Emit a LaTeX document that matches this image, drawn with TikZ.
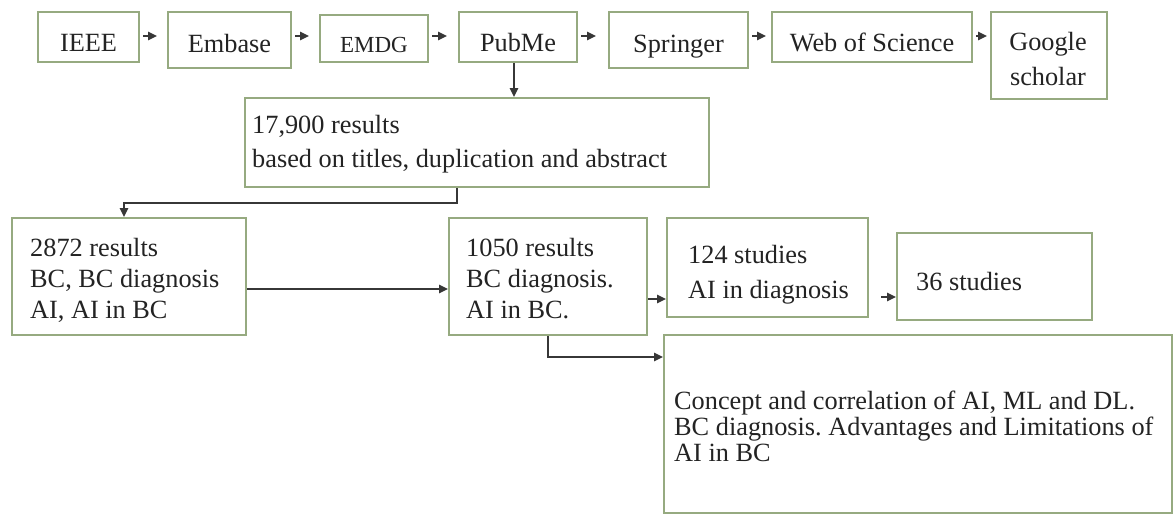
\documentclass[tikz,border=0pt]{standalone}
\usepackage{fontspec}
\setmainfont{Liberation Serif}
\usetikzlibrary{fit,arrows.meta}
\definecolor{boxc}{RGB}{150,170,128}
\definecolor{linec}{RGB}{55,55,55}
\definecolor{txtc}{RGB}{35,35,35}
\tikzset{
  boxst/.style={draw=boxc, line width=2pt, inner sep=0pt, fill=white},
  txt/.style={inner sep=0pt, text=txtc, font=\fontsize{26.3}{30}\selectfont},
  txtsm/.style={inner sep=0pt, text=txtc, font=\fontsize{23}{27}\selectfont},
  arr/.style={draw=linec, line width=1.5pt, -{Triangle[length=9pt,width=8.5pt]}},
  toparr/.style={arr, shorten <=3pt},
}
\frenchspacing
\begin{document}
\begin{tikzpicture}[x=1pt,y=-1pt]
\useasboundingbox[fill=white] (0,0) rectangle (1176,515);

% top row
\node[boxst, fit={(38,12)(139,62)}] (ieee) {};
\node[txt, anchor=base] (tieee) at (88.5,51) {IEEE};
\node[boxst, fit={(168,12)(291,68)}] (embase) {};
\node[txt, anchor=base] (tembase) at (229.5,52) {Embase};
\node[boxst, fit={(320,15)(428,62)}] (emdg) {};
\node[txtsm, anchor=base] (temdg) at (374,52.5) {EMDG};
\node[boxst, fit={(459,12)(577,62)}] (pubme) {};
\node[txt, anchor=base] (tpubme) at (518,51) {PubMe};
\node[boxst, fit={(609,12)(748,68)}] (springer) {};
\node[txt, anchor=base] (tspringer) at (678.5,52) {Springer};
\node[boxst, fit={(772,12)(972,62)}] (wos) {};
\node[txt, anchor=base] (twos) at (872,51) {Web of Science};
\node[boxst, fit={(991,12)(1107,99)}] (google) {};
\node[txt, anchor=base] (tgoogle) at (1048,50) {Google};
\node[txt, anchor=base] (tscholar) at (1048,85) {scholar};

\draw[toparr, shorten >=10pt] (ieee.east |- 0,36) -- (embase.west |- 0,36);
\draw[toparr, shorten >=10pt] (embase.east |- 0,36) -- (emdg.west |- 0,36);
\draw[toparr, shorten >=11pt] (emdg.east |- 0,36) -- (pubme.west |- 0,36);
\draw[toparr, shorten >=12pt] (pubme.east |- 0,36) -- (springer.west |- 0,36);
\draw[toparr, shorten >=5pt] (springer.east |- 0,36) -- (wos.west |- 0,36);
\draw[toparr, shorten >=3pt] (wos.east |- 0,36) -- (google.west |- 0,36);

% 17,900 box
\node[boxst, fit={(245,98)(709,187)}] (f17) {};
\node[txt, anchor=base west] (t17a) at (252,133) {17,900 results};
\node[txt, anchor=base west] (t17b) at (252,167) {based on titles, duplication and abstract};

\draw[arr] ([xshift=-4pt]pubme.south) -- ([xshift=-4pt]pubme.south |- f17.north);

% second row
\node[boxst, fit={(12,218)(246,335)}] (r2872) {};
\node[txt, anchor=base west] (t28a) at (30,256) {2872 results};
\node[txt, anchor=base west] (t28b) at (30,287) {BC, BC diagnosis};
\node[txt, anchor=base west] (t28c) at (30,318) {AI, AI in BC};

\node[boxst, fit={(449,218)(647,335)}] (r1050) {};
\node[txt, anchor=base west] (t10a) at (466,256) {1050 results};
\node[txt, anchor=base west] (t10b) at (466,287) {BC diagnosis.};
\node[txt, anchor=base west] (t10c) at (466,318) {AI in BC.};

\node[boxst, fit={(667,218)(868,317)}] (r124) {};
\node[txt, anchor=base west] (t12a) at (688,263) {124 studies};
\node[txt, anchor=base west] (t12b) at (688,298) {AI in diagnosis};

\node[boxst, fit={(897,233)(1092,320)}] (r36) {};
\node[txt, anchor=base west] (t36) at (916,290) {36 studies};

\node[boxst, fit={(664,335)(1172,513)}] (big) {};
\node[txt, anchor=base west] (tba) at (674,409) {Concept and correlation of AI, ML and DL.};
\node[txt, anchor=base west] (tbb) at (674,435) {BC diagnosis. Advantages and Limitations of};
\node[txt, anchor=base west] (tbc) at (674,461) {AI in BC};

% connectors
\coordinate (c1) at (457,203);
\coordinate (c2) at (124,203);
\draw[arr] (c1 |- f17.south) -- (c1) -- (c2) -- (c2 |- r2872.north);
\draw[arr] (r2872.east |- 0,289) -- (r1050.west |- 0,289);
\draw[arr] (r1050.east |- 0,299) -- (r124.west |- 0,299);
\draw[arr, shorten <=12pt] (r124.east |- 0,297) -- (r36.west |- 0,297);
\coordinate (c3) at (548,357);
\draw[arr] (c3 |- r1050.south) -- (c3) -- (big.west |- c3);
\end{tikzpicture}
\end{document}
